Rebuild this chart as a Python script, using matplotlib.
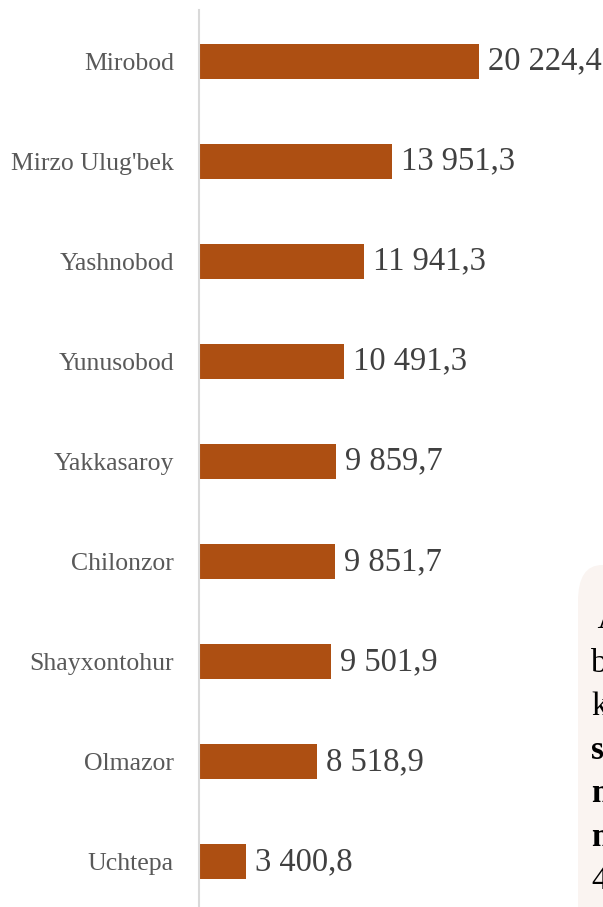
import matplotlib.pyplot as plt
from matplotlib.patches import FancyBboxPatch

districts = ["Mirobod", "Mirzo Ulug'bek", "Yashnobod", "Yunusobod", "Yakkasaroy",
             "Chilonzor", "Shayxontohur", "Olmazor", "Uchtepa"]
values = [20224.4, 13951.3, 11941.3, 10491.3, 9859.7, 9851.7, 9501.9, 8518.9, 3400.8]
side_lines = [" A", "b", "k", "s", "n", "n", "4"]
side_bold = [False, False, False, True, True, True, False]


def fmt(v):
    s = f"{v:,.1f}"
    return s.replace(",", " ").replace(".", ",")


W, H = 603, 907
fig = plt.figure(figsize=(W / 100, H / 100), dpi=100)
ax = fig.add_axes([199 / W, 0, (W - 199) / W, (H - 10) / H])

y = list(range(len(districts)))
ax.barh(y, values, height=0.35, color="#ad4f12", zorder=2)
ax.set_ylim(8.45, -0.51)
ax.set_xlim(0, (W - 199) / 0.01385)

for yi, v in zip(y, values):
    ax.text(v + 650, yi, fmt(v), va="center", ha="left", fontsize=23.5,
            family="Liberation Serif", color="#404040")

ax.set_yticks(y)
ax.set_yticklabels(districts, family="Liberation Serif", fontsize=18.5, color="#595959")
ax.tick_params(axis="y", length=0, pad=18)
ax.set_xticks([])
for s in ["top", "right", "bottom"]:
    ax.spines[s].set_visible(False)
ax.spines["left"].set_color("#d9d9d9")
ax.spines["left"].set_linewidth(1.5)

# partially visible text box at the right edge
box = FancyBboxPatch((578 / W, -0.05), 0.2, (H - 565) / H + 0.05,
                     boxstyle="round,pad=0,rounding_size=0.04",
                     transform=fig.transFigure, facecolor="#faf4f1",
                     edgecolor="none", zorder=0)
fig.patches.append(box)
for i, (t, b) in enumerate(zip(side_lines, side_bold)):
    fig.text(591 / W, 1 - (620 + i * 43.5) / H, t, fontsize=24,
             family="Liberation Serif", weight="bold" if b else "normal",
             color="black", va="center", ha="left")

fig.savefig("out.png", dpi=100)
